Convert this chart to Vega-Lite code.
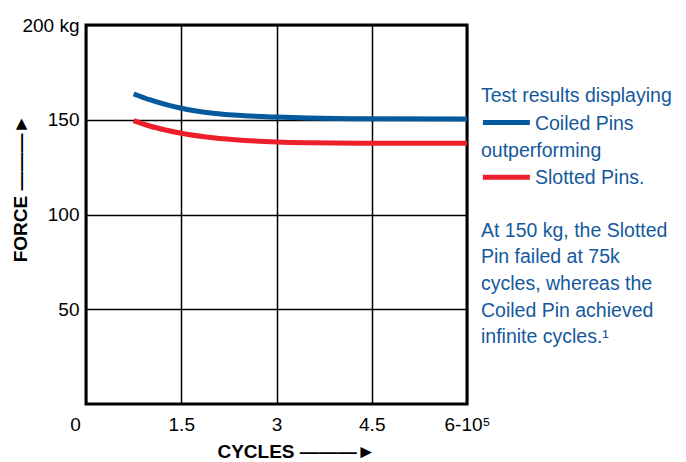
{
  "$schema": "https://vega.github.io/schema/vega-lite/v6.json",
  "width": 381,
  "height": 379,
  "autosize": {"type": "none"},
  "padding": {"left": 86, "top": 25, "right": 219, "bottom": 58},
  "background": "white",
  "config": {
    "view": {"stroke": "black", "strokeWidth": 3},
    "font": "Liberation Sans"
  },
  "layer": [
    {
      "data": {"values": [
        {"cycles": 0.75, "force": 163.6, "series": "Coiled Pins"},
        {"cycles": 1.0, "force": 160.6, "series": "Coiled Pins"},
        {"cycles": 1.25, "force": 158.1, "series": "Coiled Pins"},
        {"cycles": 1.5, "force": 156.1, "series": "Coiled Pins"},
        {"cycles": 2.0, "force": 153.4, "series": "Coiled Pins"},
        {"cycles": 2.5, "force": 152.1, "series": "Coiled Pins"},
        {"cycles": 3.0, "force": 151.4, "series": "Coiled Pins"},
        {"cycles": 3.5, "force": 150.9, "series": "Coiled Pins"},
        {"cycles": 4.5, "force": 150.5, "series": "Coiled Pins"},
        {"cycles": 6.0, "force": 150.4, "series": "Coiled Pins"},
        {"cycles": 0.75, "force": 149.5, "series": "Slotted Pins"},
        {"cycles": 1.0, "force": 146.7, "series": "Slotted Pins"},
        {"cycles": 1.25, "force": 144.6, "series": "Slotted Pins"},
        {"cycles": 1.5, "force": 142.9, "series": "Slotted Pins"},
        {"cycles": 2.0, "force": 140.5, "series": "Slotted Pins"},
        {"cycles": 2.5, "force": 139.1, "series": "Slotted Pins"},
        {"cycles": 3.0, "force": 138.3, "series": "Slotted Pins"},
        {"cycles": 3.5, "force": 137.9, "series": "Slotted Pins"},
        {"cycles": 4.5, "force": 137.6, "series": "Slotted Pins"},
        {"cycles": 6.0, "force": 137.6, "series": "Slotted Pins"}
      ]},
      "mark": {"type": "line", "interpolate": "monotone", "strokeWidth": 5, "strokeCap": "butt"},
      "encoding": {
        "x": {
          "field": "cycles", "type": "quantitative",
          "scale": {"domain": [0, 6], "nice": false, "zero": false},
          "axis": {
            "values": [0, 1.5, 3, 4.5, 6],
            "labelExpr": "datum.value === 6 ? '6-10⁵' : format(datum.value, '~g')",
            "labelFontSize": 19,
            "labelColor": "black",
            "labelPadding": 11,
            "labelOverlap": false,
            "labelBound": false,
            "labelFlush": false,
            "labelOffset": {"condition": {"test": "datum.value === 0", "value": -11}, "value": 0},
            "ticks": false,
            "domain": false,
            "grid": true,
            "gridColor": "black",
            "gridOpacity": 1,
            "gridWidth": 1.5,
            "title": "CYCLES ———►",
            "titleFontSize": 19,
            "titleFontWeight": "bold",
            "titleColor": "black",
            "titleX": 210,
            "titleY": 47,
            "titleAlign": "center",
            "titleBaseline": "middle"
          }
        },
        "y": {
          "field": "force", "type": "quantitative",
          "scale": {"domain": [0, 200], "nice": false},
          "axis": {
            "values": [50, 100, 150, 200],
            "labelExpr": "datum.value === 200 ? '200 kg' : datum.label",
            "labelFontSize": 19,
            "labelColor": "black",
            "labelPadding": 7,
            "labelBound": false,
            "labelFlush": false,
            "ticks": false,
            "domain": false,
            "grid": true,
            "gridColor": "black",
            "gridOpacity": 1,
            "gridWidth": 1.5,
            "title": "FORCE ———►",
            "titleFontSize": 19,
            "titleFontWeight": "bold",
            "titleColor": "black",
            "titleAngle": -90,
            "titleX": -66,
            "titleY": 163,
            "titleAlign": "center",
            "titleBaseline": "middle"
          }
        },
        "color": {
          "field": "series", "type": "nominal",
          "scale": {"domain": ["Coiled Pins", "Slotted Pins"], "range": ["#045a9c", "#ed1f2a"]},
          "legend": null
        }
      }
    },
    {
      "data": {"values": [
        {"x1": 6.25, "x2": 6.99, "y": 148.6, "series": "Coiled Pins"},
        {"x1": 6.25, "x2": 6.99, "y": 119.6, "series": "Slotted Pins"}
      ]},
      "mark": {"type": "rule", "strokeWidth": 5, "strokeCap": "butt"},
      "encoding": {
        "x": {"field": "x1", "type": "quantitative"},
        "x2": {"field": "x2"},
        "y": {"field": "y", "type": "quantitative"},
        "color": {"field": "series", "type": "nominal"}
      }
    },
    {
      "data": {"values": [
        {"x": 6.22, "y": 159.4, "text": "Test results displaying"},
        {"x": 7.07, "y": 144.6, "text": "Coiled Pins"},
        {"x": 6.22, "y": 130.1, "text": "outperforming"},
        {"x": 7.07, "y": 116.3, "text": "Slotted Pins."},
        {"x": 6.22, "y": 88.3, "text": "At 150 kg, the Slotted"},
        {"x": 6.22, "y": 74.2, "text": "Pin failed at 75k"},
        {"x": 6.22, "y": 60.2, "text": "cycles, whereas the"},
        {"x": 6.22, "y": 46.1, "text": "Coiled Pin achieved"},
        {"x": 6.22, "y": 32.2, "text": "infinite cycles.¹"}
      ]},
      "mark": {"type": "text", "align": "left", "baseline": "alphabetic", "fontSize": 19.5, "color": "#14599c", "font": "Liberation Sans"},
      "encoding": {
        "x": {"field": "x", "type": "quantitative"},
        "y": {"field": "y", "type": "quantitative"},
        "text": {"field": "text"}
      }
    }
  ]
}
